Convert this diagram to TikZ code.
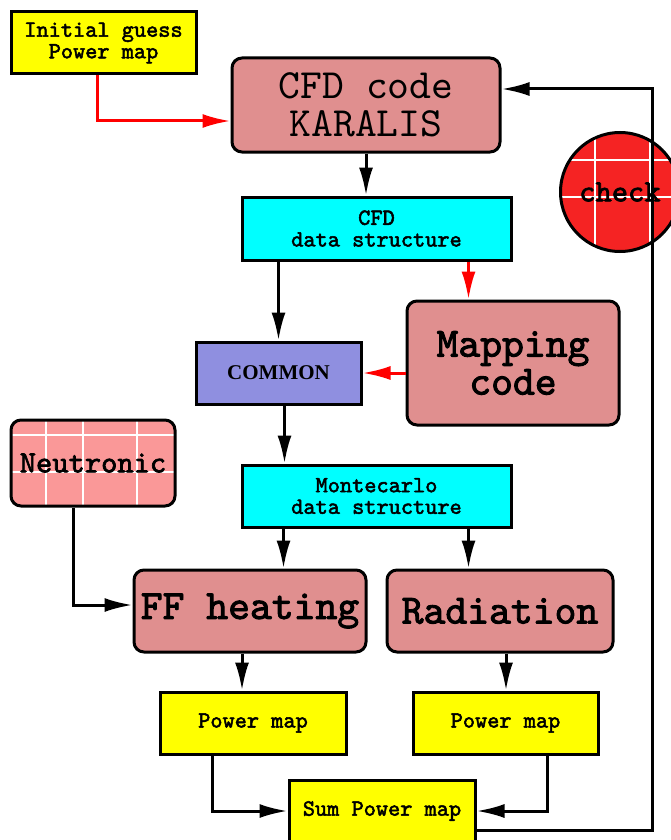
\documentclass[tikz,border=0pt]{standalone}
\usepackage{fontspec}
\newfontfamily\tms{Liberation Serif}
\newfontfamily\mono{lmmono10-regular}[Extension=.otf, AutoFakeBold=2.2]
\usetikzlibrary{arrows.meta}
\definecolor{rosy}{RGB}{224,143,143}
\definecolor{lilac}{RGB}{143,143,224}
\definecolor{lightred}{RGB}{250,152,152}
\definecolor{dotred}{RGB}{245,35,35}
\definecolor{aqua}{RGB}{0,255,255}
\definecolor{lemon}{RGB}{255,255,0}

\begin{document}
\begin{tikzpicture}
[x=0.5pt, y=-0.5pt, line width=1.5pt, >={Latex[length=14pt, width=7pt]},
%every node/.style={anchor=center},
box/.style={draw, rectangle, inner sep=0pt, align=center, font=\mono\bfseries\fontsize{11.6}{10.8}\selectfont},
bigbox/.style={draw, rectangle, rounded corners=5pt, fill=rosy, inner sep=0pt, align=center, font=\mono\bfseries\fontsize{20.8}{19}\selectfont},
gridline/.style={draw=white, line width=0.6pt}
]

\useasboundingbox (0,0) rectangle (670,840);

% centres of the boxes
\path
(103.5,43) coordinate (p1)
(366,105) coordinate (p2)
(376.5,228.5) coordinate (p3)
(278.5,373) coordinate (p4)
(513,363) coordinate (p5)
(93,463) coordinate (p6)
(376.5,496) coordinate (p7)
(250,611) coordinate (p8)
(500,611) coordinate (p9)
(253,723) coordinate (p10)
(505.5,723) coordinate (p11)
(382,811) coordinate (p12)
(620,192) coordinate (p13)
(652,89) coordinate (turn)
;

% boxes
\node[box, fill=lemon, minimum width=92.5pt, minimum height=31pt] (ini) at (p1) {Initial guess\\Power map};
\node[bigbox, font=\mono\fontsize{20.8}{19}\selectfont, minimum width=134pt, minimum height=47pt] (cfd) at (p2) {CFD code\\KARALIS};
\node[box, fill=aqua, minimum width=134.5pt, minimum height=31.5pt] (cfdds) at (p3) {CFD\\data structure};
\node[box, fill=lilac, minimum width=82.5pt, minimum height=31pt, font=\tms\bfseries\fontsize{10.5}{12}\selectfont] (common) at (p4) {COMMON};
\node[bigbox, minimum width=106pt, minimum height=62pt] (map) at (p5) {Mapping\\code};
\node[bigbox, fill=lightred, minimum width=82pt, minimum height=43pt, font=\mono\bfseries\fontsize{15.5}{14}\selectfont,
 path picture={
 \foreach \gx in {-23.5,-5,22}
 {\draw[gridline] ([xshift=\gx pt]path picture bounding box.north) -- ([xshift=\gx pt]path picture bounding box.south);}
 \foreach \gy in {14,-4.5}
 {\draw[gridline] ([yshift=\gy pt]path picture bounding box.west) -- ([yshift=\gy pt]path picture bounding box.east);}
 }] (neu) at (p6) {Neutronic};
\node[box, fill=aqua, minimum width=134.5pt, minimum height=31pt] (mcds) at (p7) {Montecarlo\\data structure};
\node[bigbox, minimum width=116pt, minimum height=41pt] (ff) at (p8) {FF heating};
\node[bigbox, minimum width=113pt, minimum height=41pt] (rad) at (p9) {Radiation};
\node[box, fill=lemon, minimum width=93pt, minimum height=31pt] (pmL) at (p10) {Power map};
\node[box, fill=lemon, minimum width=92.5pt, minimum height=31pt] (pmR) at (p11) {Power map};
\node[box, fill=lemon, minimum width=93pt, minimum height=31pt] (sum) at (p12) {Sum Power map};
\node[draw, circle, fill=dotred, minimum size=59.5pt, inner sep=0pt, font=\mono\bfseries\fontsize{15.5}{14}\selectfont,
 path picture={
 \foreach \gx in {-12.5,15}
 {\draw[gridline] ([xshift=\gx pt]path picture bounding box.north) -- ([xshift=\gx pt]path picture bounding box.south);}
 \foreach \gy in {16,-2.5}
 {\draw[gridline] ([yshift=\gy pt]path picture bounding box.west) -- ([yshift=\gy pt]path picture bounding box.east);}
 }] (chk) at (p13) {check};

% connectors
\draw[->, red] ([xshift=-3pt]ini.south) |- ([yshift=-8pt]cfd.west);
\draw[->] (cfd.south) -- (cfd.south |- cfdds.north);
\draw[->] (common.north |- cfdds.south) -- (common.north);
\draw[->, red] ([xshift=46pt]cfdds.south) -- ([xshift=46pt]cfdds.south |- map.north);
\draw[->, red] (map.west |- common.east) -- (common.east);
\draw[->] ([xshift=3pt]common.south) -- ([xshift=3pt]common.south |- mcds.north);
\draw[->] ([xshift=-46.5pt]mcds.south) -- ([xshift=-46.5pt]mcds.south |- ff.north);
\draw[->] ([xshift=46pt]mcds.south) -- ([xshift=46pt]mcds.south |- rad.north);
\draw[->] ([xshift=-10pt]neu.south) |- ([yshift=3pt]ff.west);
\draw[->] ([xshift=-4pt]ff.south) -- ([xshift=-4pt]ff.south |- pmL.north);
\draw[->] ([xshift=3pt]rad.south) -- ([xshift=3pt]rad.south |- pmR.north);
\draw[->] ([xshift=-20.5pt]pmL.south) |- (sum.west);
\draw[->] ([xshift=20.75pt]pmR.south) |- (sum.east);
\draw[->] ([yshift=-9.5pt]sum.east) -| (turn) -- ([yshift=8pt]cfd.east);

\end{tikzpicture}
\end{document}
